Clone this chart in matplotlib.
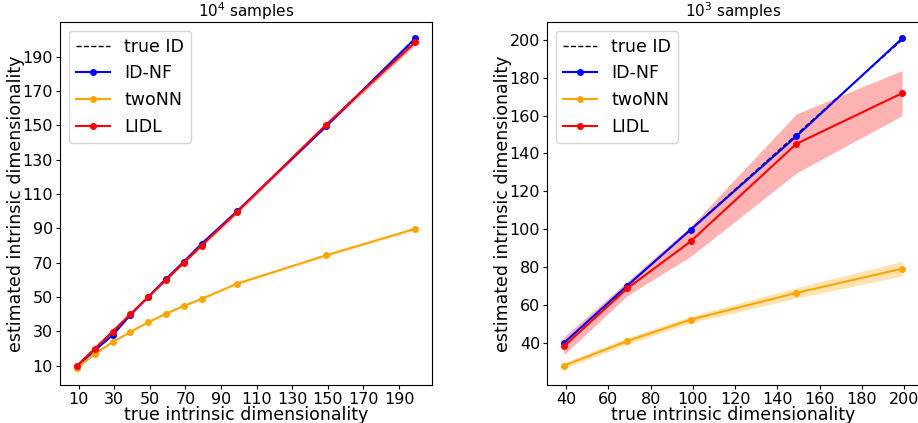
import matplotlib
matplotlib.use("Agg")
import matplotlib.pyplot as plt

# ---- data: 10^4 samples ----
x_a = [9, 19, 29, 39, 49, 59, 69, 79, 99, 149, 199]
true_a = [10, 20, 30, 40, 50, 60, 70, 80, 100, 150, 200]
idnf_a = [9.5, 19.0, 27.7, 39.5, 50.0, 60.5, 70.5, 81.0, 100.0, 149.3, 200.5]
twonn_a = [8.7, 16.8, 23.8, 29.6, 35.3, 40.3, 44.8, 48.9, 57.8, 74.3, 89.7]
twonn_a_lo = [8.4, 16.4, 23.4, 29.2, 34.8, 39.8, 44.3, 48.4, 57.2, 73.6, 88.9]
twonn_a_hi = [9.0, 17.2, 24.2, 30.0, 35.8, 40.8, 45.3, 49.4, 58.4, 75.0, 90.5]
lidl_a = [10.0, 19.9, 29.8, 40.0, 50.0, 60.0, 70.0, 80.0, 99.5, 150.3, 198.2]
lidl_a_lo = [9.6, 19.5, 29.3, 39.5, 49.4, 59.3, 69.2, 79.1, 98.4, 149.0, 196.6]
lidl_a_hi = [10.4, 20.3, 30.3, 40.5, 50.6, 60.7, 70.8, 80.9, 100.6, 151.6, 199.8]

# ---- data: 10^3 samples ----
x_b = [39, 69, 99, 149, 199]
true_b = [40, 70, 100, 150, 200]
idnf_b = [40.0, 70.3, 99.8, 149.1, 200.7]
twonn_b = [28.0, 41.0, 52.3, 66.4, 79.2]
twonn_b_lo = [26.5, 39.3, 50.5, 63.6, 75.3]
twonn_b_hi = [29.5, 42.7, 54.1, 69.2, 83.1]
lidl_b = [38.2, 68.8, 93.6, 145.1, 171.8]
lidl_b_lo = [33.8, 65.0, 85.7, 129.7, 160.0]
lidl_b_hi = [43.2, 72.5, 101.6, 160.9, 183.8]

xticks_a = list(range(10, 200, 20))
yticks_a = list(range(10, 200, 20))
xticks_b = list(range(40, 201, 20))
yticks_b = list(range(40, 201, 20))

W, H = 918, 423
fig = plt.figure(figsize=(W / 100, H / 100), dpi=100)

ax1 = fig.add_axes([60 / W, 38 / H, 372 / W, 363 / H])
ax2 = fig.add_axes([547 / W, 38 / H, 372 / W, 363 / H])

def draw(ax, x, true, idnf, twonn, tlo, thi, lidl, llo, lhi):
    ax.plot(x, true, ls="--", color="black", lw=1.0, label="true ID", zorder=2)
    ax.fill_between(x, tlo, thi, color="orange", alpha=0.3, lw=0)
    ax.fill_between(x, llo, lhi, color="red", alpha=0.3, lw=0)
    ax.plot(x, idnf, "-o", color="blue", ms=4, lw=1.5, label="ID-NF", zorder=3)
    ax.plot(x, twonn, "-o", color="orange", ms=4, lw=1.5, label="twoNN", zorder=3)
    ax.plot(x, lidl, "-o", color="red", ms=4, lw=1.5, label="LIDL", zorder=3)
    ax.legend(loc="upper left", fontsize=12.5, handlelength=2.0)
    ax.set_xlabel("true intrinsic dimensionality", fontsize=12.5, labelpad=-1)
    ax.set_ylabel("estimated intrinsic dimensionality", fontsize=12.5, labelpad=-1.5)
    ax.tick_params(labelsize=11.5, length=3, pad=2)

draw(ax1, x_a, true_a, idnf_a, twonn_a, twonn_a_lo, twonn_a_hi, lidl_a, lidl_a_lo, lidl_a_hi)
draw(ax2, x_b, true_b, idnf_b, twonn_b, twonn_b_lo, twonn_b_hi, lidl_b, lidl_b_lo, lidl_b_hi)

ax1.set_xticks(xticks_a)
ax1.set_yticks(yticks_a)
ax2.set_xticks(xticks_b)
ax2.set_yticks(yticks_b)

ax1.set_title(r"$10^4$ samples", fontsize=11, pad=3)
ax2.set_title(r"$10^3$ samples", fontsize=11, pad=3)

fig.savefig("out.png", dpi=100)
